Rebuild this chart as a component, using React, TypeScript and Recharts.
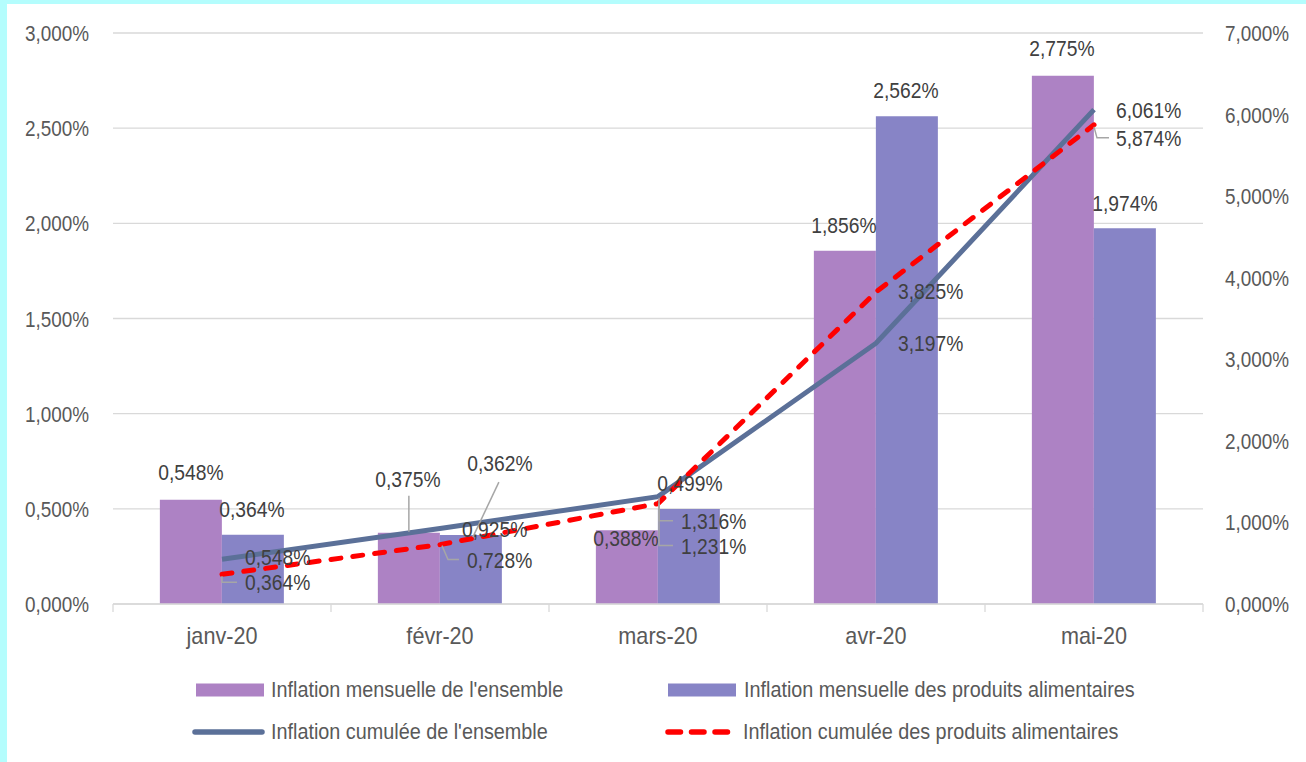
import React from 'react';
import { ComposedChart, Bar, Line, XAxis, YAxis, CartesianGrid, LabelList } from 'recharts';

// ---------- data ----------
const categories = ['janv-20', 'févr-20', 'mars-20', 'avr-20', 'mai-20'];
const monthlyTotal = [0.548, 0.375, 0.388, 1.856, 2.775];
const monthlyFood = [0.364, 0.362, 0.499, 2.562, 1.974];
const cumulativeTotal = [0.548, 0.925, 1.316, 3.197, 6.061];
const cumulativeFood = [0.364, 0.728, 1.231, 3.825, 5.874];
const leftTicks = [0, 0.5, 1, 1.5, 2, 2.5, 3];
const rightTicks = [0, 1, 2, 3, 4, 5, 6, 7];
const seriesNames = [
  "Inflation mensuelle de l'ensemble",
  'Inflation mensuelle des produits alimentaires',
  "Inflation cumulée de l'ensemble",
  'Inflation cumulée des produits alimentaires',
];

const data = categories.map((cat, i) => ({
  cat,
  mt: monthlyTotal[i],
  mf: monthlyFood[i],
  ct: cumulativeTotal[i],
  cf: cumulativeFood[i],
}));

// ---------- styles ----------
const FONT = '"Liberation Sans", Arial, sans-serif';
const C_PURPLE = '#AD82C4';
const C_BLUE = '#8784C6';
const C_LINE = '#5B7098';
const C_RED = '#FF0000';
const C_GRID = '#D9D9D9';
const C_TICK = '#595959';
const C_LABEL = '#404040';
const C_LEADER = '#A6A6A6';
const X_TICK_MARGIN = 32;

const fmt = (v: number) => v.toFixed(3).replace('.', ',') + '%';

type LL = { dx: number; dy: number; anchor: 'middle' | 'start'; leader?: [number, number][] };

// label offsets relative to the bar top-centre / line point
const barTotalLabels: LL[] = [
  { dx: 0, dy: -28, anchor: 'middle' },
  { dx: -1, dy: -54, anchor: 'middle', leader: [[0, -37], [0, -1]] },
  { dx: -1, dy: 8, anchor: 'middle' },
  { dx: -1, dy: -26, anchor: 'middle' },
  { dx: -1, dy: -28, anchor: 'middle' },
];
const barFoodLabels: LL[] = [
  { dx: -1, dy: -26, anchor: 'middle' },
  { dx: 29, dy: -72, anchor: 'middle', leader: [[28, -53], [2, 2]] },
  { dx: 1, dy: -26, anchor: 'middle' },
  { dx: -1, dy: -26, anchor: 'middle' },
  { dx: 0, dy: -25, anchor: 'middle' },
];
const cumTotalLabels: LL[] = [
  { dx: 23, dy: -2, anchor: 'start' },
  { dx: 22, dy: 0, anchor: 'start' },
  { dx: 23, dy: 24, anchor: 'start', leader: [[1, 1], [1, 24], [15, 24]] },
  { dx: 22, dy: 0, anchor: 'start' },
  { dx: 22, dy: 0, anchor: 'start' },
];
const cumFoodLabels: LL[] = [
  { dx: 23, dy: 8, anchor: 'start', leader: [[0, 2], [0, 8], [15, 8]] },
  { dx: 27, dy: 15, anchor: 'start', leader: [[2, 1], [8, 15], [19, 15]] },
  { dx: 23, dy: 42, anchor: 'start', leader: [[1, 0], [1, 42], [15, 42]] },
  { dx: 22, dy: -1, anchor: 'start' },
  { dx: 22, dy: 13, anchor: 'start', leader: [[0, 2], [3, 13], [15, 13]] },
];

function ScaledText({ x, y, text, size, sx, anchor = 'start', fill }: any) {
  return (
    <text
      transform={`translate(${x},${y}) scale(${sx},1)`}
      x={0}
      y={0}
      textAnchor={anchor}
      dominantBaseline="central"
      fontSize={size}
      fontFamily={FONT}
      fill={fill}
    >
      {text}
    </text>
  );
}

const makeLabel = (layout: LL[], kind: 'bar' | 'point') => (props: any) => {
  const { x, y, width, value, index } = props;
  const L = layout[index];
  if (!L || value == null) return null;
  const ax = kind === 'bar' ? Number(x) + Number(width) / 2 : Number(x);
  const ay = Number(y);
  return (
    <g>
      {L.leader && (
        <polyline
          points={L.leader.map(([px, py]) => `${ax + px},${ay + py}`).join(' ')}
          fill="none"
          stroke={C_LEADER}
          strokeWidth={1.5}
        />
      )}
      <ScaledText x={ax + L.dx} y={ay + L.dy} text={fmt(Number(value))} size={22} sx={0.875} anchor={L.anchor} fill={C_LABEL} />
    </g>
  );
};

const YTick = (props: any) => {
  const { x, y, payload, textAnchor } = props;
  return <ScaledText x={x} y={y} text={fmt(Number(payload.value))} size={22} sx={0.86} anchor={textAnchor} fill={C_TICK} />;
};

const XTick = (props: any) => {
  const { x, y, payload, index, width, visibleTicksCount } = props;
  const band = Number(width) / Number(visibleTicksCount || categories.length);
  const axisY = Number(y) - X_TICK_MARGIN;
  const marks: number[] = [];
  if (isFinite(band) && band > 0) {
    marks.push(Number(x) - band / 2);
    if (index === (visibleTicksCount || categories.length) - 1) marks.push(Number(x) + band / 2);
  }
  return (
    <g>
      {marks.map((mx, k) => (
        <line key={k} x1={mx} y1={axisY} x2={mx} y2={axisY + 8} stroke={C_GRID} strokeWidth={1.3} />
      ))}
      <ScaledText x={x} y={y} text={payload.value} size={23} sx={0.94} anchor="middle" fill={C_TICK} />
    </g>
  );
};

const Legend2x2 = () => {
  const items = [
    { name: seriesNames[0], type: 'bar', color: C_PURPLE, left: 196, cy: 689.5 },
    { name: seriesNames[1], type: 'bar', color: C_BLUE, left: 668, cy: 689.5 },
    { name: seriesNames[2], type: 'line', color: C_LINE, left: 196, cy: 732 },
    { name: seriesNames[3], type: 'dash', color: C_RED, left: 668, cy: 732 },
  ];
  return (
    <>
      {items.map((it) => (
        <div key={it.name} style={{ position: 'absolute', left: it.left - 4, top: it.cy - 12, height: 24 }}>
          <svg width={76} height={24} style={{ position: 'absolute', left: 0, top: 0 }}>
            {it.type === 'bar' && <rect x={4} y={5.5} width={68} height={13} fill={it.color} />}
            {it.type === 'line' && (
              <line x1={3} y1={12} x2={70} y2={12} stroke={it.color} strokeWidth={5.5} strokeLinecap="round" />
            )}
            {it.type === 'dash' && (
              <line x1={4} y1={12} x2={66} y2={12} stroke={it.color} strokeWidth={5.5} strokeLinecap="round" strokeDasharray="12.5 11" />
            )}
          </svg>
          <span
            style={{
              position: 'absolute',
              left: it.type === 'bar' && it.left > 400 ? 80 : 79,
              top: 0,
              lineHeight: '24px',
              fontSize: 22,
              fontFamily: FONT,
              color: C_TICK,
              whiteSpace: 'nowrap',
              display: 'inline-block',
              transform: 'scaleX(0.9)',
              transformOrigin: '0 50%',
            }}
          >
            {it.name}
          </span>
        </div>
      ))}
    </>
  );
};

export default function App() {
  return (
    <div style={{ position: 'absolute', left: 0, top: 0, width: 1306, height: 762, background: '#fff', overflow: 'hidden' }}>
      <ComposedChart
        width={1306}
        height={762}
        data={data}
        margin={{ top: 33, right: 23, bottom: 118, left: 33 }}
        barCategoryGap="21.5%"
        barGap={0}
      >
        <CartesianGrid yAxisId="left" vertical={false} stroke={C_GRID} strokeWidth={1.3} />
        <XAxis
          dataKey="cat"
          height={40}
          axisLine={{ stroke: C_GRID, strokeWidth: 1.3 }}
          tickLine={false}
          tickSize={0}
          tickMargin={X_TICK_MARGIN}
          tick={<XTick />}
          interval={0}
        />
        <YAxis
          yAxisId="left"
          domain={[0, 3]}
          ticks={leftTicks}
          width={80}
          axisLine={false}
          tickLine={false}
          tickSize={0}
          tickMargin={24}
          tick={<YTick />}
          interval={0}
        />
        <YAxis
          yAxisId="right"
          orientation="right"
          domain={[0, 7]}
          ticks={rightTicks}
          width={80}
          axisLine={false}
          tickLine={false}
          tickSize={0}
          tickMargin={22}
          tick={<YTick />}
          interval={0}
        />
        <Bar yAxisId="left" dataKey="mt" name={seriesNames[0]} fill={C_PURPLE} isAnimationActive={false}>
          <LabelList dataKey="mt" content={makeLabel(barTotalLabels, 'bar')} />
        </Bar>
        <Bar yAxisId="left" dataKey="mf" name={seriesNames[1]} fill={C_BLUE} isAnimationActive={false}>
          <LabelList dataKey="mf" content={makeLabel(barFoodLabels, 'bar')} />
        </Bar>
        <Line
          yAxisId="right"
          dataKey="ct"
          name={seriesNames[2]}
          stroke={C_LINE}
          strokeWidth={5}
          dot={false}
          activeDot={false}
          isAnimationActive={false}
        >
          <LabelList dataKey="ct" content={makeLabel(cumTotalLabels, 'point')} />
        </Line>
        <Line
          yAxisId="right"
          dataKey="cf"
          name={seriesNames[3]}
          stroke={C_RED}
          strokeWidth={5}
          strokeDasharray="10 12"
          strokeLinecap="round"
          dot={false}
          activeDot={false}
          isAnimationActive={false}
        >
          <LabelList dataKey="cf" content={makeLabel(cumFoodLabels, 'point')} />
        </Line>
      </ComposedChart>
      <Legend2x2 />
      <div style={{ position: 'absolute', left: 0, top: 0, width: 7, height: 762, background: '#B4FDFD' }} />
      <div style={{ position: 'absolute', left: 0, top: 0, width: 1306, height: 4, background: '#B4FDFD' }} />
    </div>
  );
}
